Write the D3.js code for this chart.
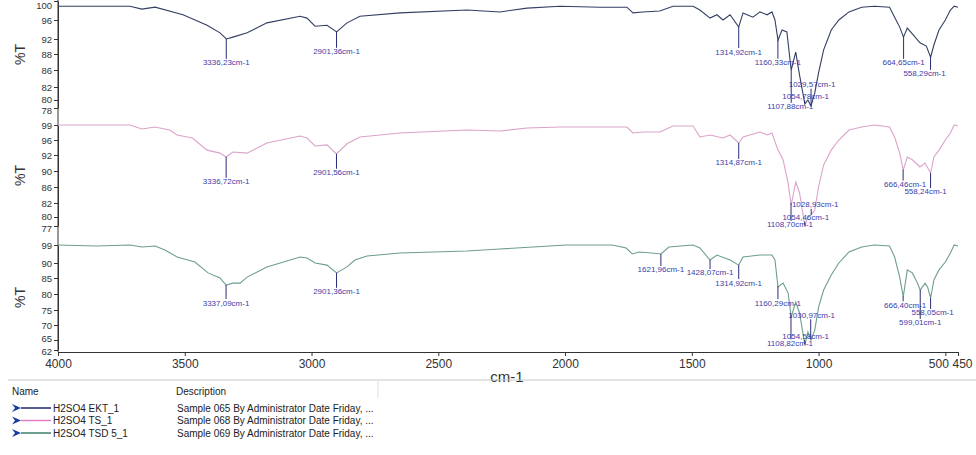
<!DOCTYPE html>
<html>
<head>
<meta charset="utf-8">
<script src="https://cdn.jsdelivr.net/npm/d3@7"></script>
<style>
  body { margin: 0; background: #fff; font-family: "Liberation Sans", Arial, sans-serif; }
  .tick text { fill: #333; }
</style>
</head>
<body>
<svg id="chart" width="976" height="455"></svg>
<script>
// ---- data (wavenumber cm-1, %T) ----
const wn1 = [4000, 3716, 3669, 3617, 3507, 3412, 3361, 3336, 3310, 3254, 3176, 3045, 3018, 2986, 2939, 2901, 2860, 2809, 2651, 2387, 2257, 2150, 2020, 1862, 1756, 1732, 1693, 1626, 1574, 1495, 1468, 1428, 1401, 1377, 1349, 1315, 1298, 1259, 1231, 1203, 1184, 1172, 1160, 1144, 1125, 1108, 1090, 1075, 1054, 1042, 1030, 1015, 1000, 980, 950, 920, 880, 830, 780, 720, 700, 680, 665, 650, 630, 600, 575, 558, 545, 525, 500, 480, 465, 450];
const t1 = [98.9, 98.9, 98.3, 98.7, 97.1, 94.9, 93.3, 92.0, 92.4, 93.3, 95.4, 96.8, 96.4, 94.7, 94.9, 93.5, 95.4, 96.8, 97.5, 98.1, 97.7, 98.5, 98.9, 98.7, 98.7, 97.5, 97.7, 97.9, 98.9, 98.9, 98.1, 96.4, 97.1, 96.0, 97.1, 94.5, 97.5, 96.6, 97.7, 97.1, 97.7, 96.0, 91.7, 93.9, 93.5, 86.0, 88.5, 84.8, 79.0, 80.0, 78.5, 81.1, 85.3, 89.1, 93.9, 96.0, 97.7, 98.7, 98.9, 98.7, 96.6, 94.5, 92.4, 94.3, 93.1, 91.0, 90.1, 87.6, 90.4, 93.9, 96.0, 98.1, 98.9, 98.7];

const wn2 = [4000, 3716, 3669, 3617, 3560, 3530, 3470, 3412, 3361, 3337, 3310, 3254, 3176, 3045, 3018, 2986, 2939, 2902, 2860, 2809, 2651, 2387, 2257, 2150, 2020, 1862, 1756, 1732, 1693, 1626, 1574, 1495, 1468, 1428, 1377, 1349, 1315, 1298, 1231, 1203, 1184, 1160, 1140, 1120, 1108, 1090, 1075, 1054, 1042, 1029, 1015, 1000, 980, 950, 920, 880, 830, 780, 720, 700, 680, 666, 650, 630, 600, 580, 558, 545, 525, 500, 480, 465, 450];
const t2 = [99.0, 99.0, 98.2, 98.6, 98.0, 97.0, 96.4, 93.3, 92.5, 91.75, 92.8, 92.5, 95.2, 96.8, 96.4, 94.4, 94.7, 92.3, 95.0, 96.6, 97.4, 98.0, 97.8, 98.4, 98.6, 98.6, 98.6, 97.4, 97.6, 97.6, 98.8, 98.8, 96.6, 97.0, 96.4, 97.0, 95.2, 96.6, 97.6, 97.0, 97.4, 93.3, 91.4, 87.0, 81.7, 87.25, 84.5, 77.0, 80.0, 80.3, 81.0, 86.0, 90.75, 93.3, 96.0, 98.0, 98.6, 99.0, 98.6, 96.6, 92.5, 90.1, 91.75, 91.4, 90.5, 91.0, 89.5, 91.75, 93.3, 96.0, 97.4, 99.0, 98.8];

const wn3 = [4000, 3850, 3716, 3669, 3617, 3578, 3530, 3460, 3408, 3361, 3337, 3310, 3282, 3254, 3176, 3045, 3018, 2986, 2939, 2901, 2860, 2829, 2781, 2651, 2387, 2257, 2126, 1995, 1814, 1759, 1735, 1708, 1660, 1622, 1590, 1495, 1468, 1428, 1401, 1349, 1315, 1298, 1231, 1184, 1172, 1160, 1140, 1120, 1108, 1090, 1075, 1054, 1042, 1030, 1015, 1000, 980, 950, 920, 880, 830, 780, 720, 700, 680, 666, 650, 630, 610, 599, 580, 570, 558, 545, 525, 500, 480, 465, 450];
const t3 = [99.0, 98.5, 99.0, 98.0, 98.5, 96.5, 93.0, 90.5, 86.7, 85.0, 82.8, 83.4, 83.4, 85.3, 88.7, 93.0, 92.5, 90.0, 89.3, 86.7, 88.7, 91.5, 93.5, 95.0, 96.0, 97.0, 98.0, 99.0, 99.0, 97.5, 94.5, 95.5, 95.0, 94.5, 98.0, 99.0, 97.5, 91.5, 94.0, 91.5, 89.3, 93.0, 94.0, 94.0, 91.5, 82.2, 83.4, 80.3, 72.7, 77.5, 74.0, 63.5, 67.7, 65.0, 68.3, 75.9, 81.25, 86.0, 90.0, 95.5, 98.0, 99.0, 98.5, 93.0, 85.3, 79.1, 87.7, 86.7, 83.4, 81.25, 83.4, 82.2, 78.75, 84.4, 87.7, 90.5, 95.0, 99.0, 98.5];

// labelled peaks
const peaks1 = [3336.23, 2901.36, 1314.92, 1160.33, 1029.57, 1054.78, 1107.88, 664.65, 558.29];
const peaks2 = [3336.72, 2901.56, 1314.87, 1028.93, 1054.46, 1108.70, 666.46, 558.24];
const peaks3 = [3337.09, 2901.36, 1621.96, 1428.07, 1314.92, 1160.29, 1030.97, 1054.58, 1108.82, 666.40, 558.05, 599.01];

// axis ticks
const yTicks1 = [100, 96, 92, 88, 86, 82, 80, 78];
const yTicks2 = [99, 96, 92, 90, 86, 82, 80, 77];
const yTicks3 = [99, 90, 85, 80, 75, 70, 65, 62];
const xTicks = [4000, 3500, 3000, 2500, 2000, 1500, 1000, 500, 450];

// legend
const seriesNames = ["H2SO4 EKT_1", "H2SO4 TS_1", "H2SO4 TSD 5_1"];
const seriesDescs = [
  "Sample 065 By Administrator Date Friday, ...",
  "Sample 068 By Administrator Date Friday, ...",
  "Sample 069 By Administrator Date Friday, ..."
];

// ---- layout ----
const layout = {
  left: 58, right: 958, xAxisY: 352,
  tickY: [
    [1, 20, 39, 54, 70, 87, 100, 108],
    [125, 140, 155, 171, 187, 203, 217, 226],
    [245, 263, 278, 294, 310, 325, 340, 350]
  ],
  // small vertical nudges of crowded tick labels, by tick index
  tickNudge: [
    { 0: 4, 6: -1, 7: 2 },
    { 6: -1, 7: 2 },
    { 6: -2, 7: 1 }
  ],
  curveColor: ["#333f63", "#dba3c9", "#6e9e8c"],
  legendColor: ["#1c2a6e", "#e37cc4", "#3f7f6b"],
  // label offsets [dx, dy] from the peak point
  labelOff: [
    [[0, 24], [0, 20], [0, 25], [0, 23], [1, -21], [1, -7], [-1, 37], [0, 26], [-6, 17]],
    [[0, 25], [0, 19], [0, 20], [4, -10], [1, -8], [-1, 22], [2, 15], [-5, 19]],
    [[0, 18], [0, 19], [0, 16], [0, 13], [0, 18], [0, 17], [1, -24], [1, -8], [-1, 28], [2, 9], [2, 15], [0, 33]]
  ]
};

const svg = d3.select("#chart");

const x = d3.scaleLinear().domain([4000, 450]).range([layout.left, layout.right]);

const panels = [
  { wn: wn1, t: t1, peaks: peaks1, ticks: yTicks1 },
  { wn: wn2, t: t2, peaks: peaks2, ticks: yTicks2 },
  { wn: wn3, t: t3, peaks: peaks3, ticks: yTicks3 }
];

// linear interpolation of %T at a wavenumber
function valueAt(wn, t, w) {
  for (let i = 0; i < wn.length - 1; i++) {
    if (w <= wn[i] && w >= wn[i + 1]) {
      const f = (wn[i] - w) / (wn[i] - wn[i + 1]);
      return t[i] + f * (t[i + 1] - t[i]);
    }
  }
  return t[t.length - 1];
}

const fmt = d3.format(".2f");

// continuous left axis line
svg.append("line")
  .attr("x1", layout.left).attr("x2", layout.left)
  .attr("y1", 0).attr("y2", layout.xAxisY)
  .attr("stroke", "#333");

panels.forEach((p, k) => {
  // piecewise linear scale to follow the stacked axis labels
  const y = d3.scaleLinear().domain(p.ticks).range(layout.tickY[k]);

  const axis = svg.append("g")
    .attr("transform", `translate(${layout.left},0)`)
    .call(d3.axisLeft(y).tickValues(p.ticks).tickSize(4).tickSizeOuter(0).tickPadding(2));
  axis.select(".domain").attr("stroke", "#333");
  axis.selectAll(".tick line").attr("stroke", "#333");
  axis.selectAll(".tick text")
    .attr("font-size", 9.5)
    .attr("font-family", "'Liberation Sans Narrow', 'Liberation Sans', Arial, sans-serif")
    .attr("y", (d, i) => layout.tickNudge[k][i] || 0);

  const yr = layout.tickY[k];
  svg.append("text")
    .attr("transform", `translate(20,${(yr[0] + yr[yr.length - 1]) / 2}) rotate(-90)`)
    .attr("text-anchor", "middle")
    .attr("dominant-baseline", "central")
    .attr("font-size", 14)
    .attr("fill", "#333")
    .text("%T");

  const line = d3.line()
    .x((d, i) => x(p.wn[i]))
    .y((d, i) => y(p.t[i]));

  svg.append("path")
    .datum(p.t)
    .attr("d", line)
    .attr("fill", "none")
    .attr("stroke", layout.curveColor[k])
    .attr("stroke-width", 1.1);

  // peak markers
  const g = svg.append("g");
  p.peaks.forEach((w, i) => {
    const px = x(w);
    const py = y(valueAt(p.wn, p.t, w));
    const [dx, dy] = layout.labelOff[k][i];
    const ly = py + dy;
    const endY = dy > 0 ? ly - 4 : ly + 4;
    g.append("line")
      .attr("x1", px).attr("x2", px)
      .attr("y1", py).attr("y2", endY)
      .attr("stroke", "#2c2c78")
      .attr("stroke-width", 1);
    g.append("text")
      .attr("x", px + dx)
      .attr("y", ly)
      .attr("text-anchor", "middle")
      .attr("dominant-baseline", "central")
      .attr("font-size", 8)
      .attr("fill", "#3c3ca8")
      .text(fmt(w).replace(".", ",") + "cm-1");
  });
});

// x axis
const xAxis = svg.append("g")
  .attr("transform", `translate(0,${layout.xAxisY})`)
  .call(d3.axisBottom(x).tickValues(xTicks).tickFormat(d3.format("d"))
    .tickSize(4).tickSizeOuter(0).tickPadding(3));
xAxis.select(".domain").attr("stroke", "#333");
xAxis.selectAll(".tick line").attr("stroke", "#333");
xAxis.selectAll(".tick text")
  .attr("font-size", 12)
  .attr("dx", d => d === 500 ? -7 : d === 450 ? 4 : 0);

svg.append("text")
  .attr("x", 507).attr("y", 376)
  .attr("text-anchor", "middle")
  .attr("dominant-baseline", "central")
  .attr("font-size", 15)
  .attr("fill", "#333")
  .text("cm-1");

// ---- legend table ----
svg.append("line")
  .attr("x1", 8).attr("x2", 976)
  .attr("y1", 380).attr("y2", 380)
  .attr("stroke", "#c8c8c8");
svg.append("line")
  .attr("x1", 378).attr("x2", 378)
  .attr("y1", 380).attr("y2", 398)
  .attr("stroke", "#e0e0e0");

svg.append("text").attr("x", 12).attr("y", 391)
  .attr("dominant-baseline", "central").attr("font-size", 10).attr("fill", "#222").text("Name");
svg.append("text").attr("x", 176).attr("y", 391)
  .attr("dominant-baseline", "central").attr("font-size", 10).attr("fill", "#222").text("Description");

const rowY = d3.scaleLinear().domain([0, 1]).range([408, 420.5]);

seriesNames.forEach((name, i) => {
  const yy = rowY(i);
  svg.append("path")
    .attr("d", `M12,${yy - 4} L21,${yy} L12,${yy + 4} L15,${yy} Z`)
    .attr("fill", "#1b3b9e");
  svg.append("line")
    .attr("x1", 21).attr("x2", 51)
    .attr("y1", yy).attr("y2", yy)
    .attr("stroke", layout.legendColor[i])
    .attr("stroke-width", 1.5);
  svg.append("text").attr("x", 53).attr("y", yy)
    .attr("dominant-baseline", "central").attr("font-size", 10).attr("fill", "#222").text(name);
  svg.append("text").attr("x", 177).attr("y", yy)
    .attr("dominant-baseline", "central").attr("font-size", 10).attr("fill", "#222").text(seriesDescs[i]);
});
</script>
</body>
</html>
